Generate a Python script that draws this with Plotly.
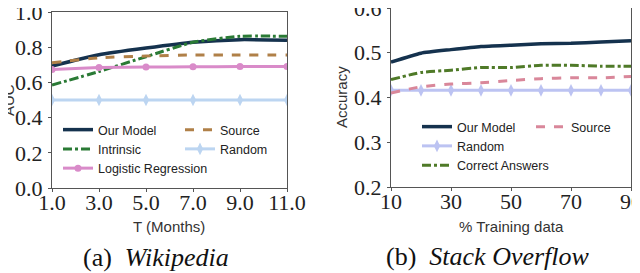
import plotly.graph_objects as go

# ---- Data: (a) Wikipedia ----
wiki_months = [1, 3, 5, 7, 9, 11]
wiki_our_model = [0.693, 0.757, 0.795, 0.828, 0.843, 0.840]
wiki_intrinsic = [0.585, 0.662, 0.746, 0.828, 0.862, 0.862]
wiki_source = [0.712, 0.740, 0.750, 0.756, 0.756, 0.756]
wiki_logistic = [0.674, 0.684, 0.687, 0.689, 0.690, 0.690]
wiki_random = [0.50, 0.50, 0.50, 0.50, 0.50, 0.50]
wiki_xticks = [1, 3, 5, 7, 9, 11]
wiki_xticklabels = ["1.0", "3.0", "5.0", "7.0", "9.0", "11.0"]
wiki_yticks = [0.0, 0.2, 0.4, 0.6, 0.8, 1.0]

# ---- Data: (b) Stack Overflow ----
so_pct = [10, 20, 30, 40, 50, 60, 70, 80, 90]
so_our_model = [0.479, 0.499, 0.507, 0.514, 0.517, 0.520, 0.521, 0.524, 0.527]
so_correct = [0.440, 0.456, 0.461, 0.467, 0.467, 0.472, 0.472, 0.470, 0.470]
so_source = [0.410, 0.424, 0.430, 0.433, 0.438, 0.442, 0.444, 0.444, 0.447]
so_random = [0.416] * 9
so_xticks = [10, 30, 50, 70, 90]
so_yticks = [0.2, 0.3, 0.4, 0.5, 0.6]

C_NAVY = "#15324e"
C_GREEN = "#2a7a35"
C_TAN = "#b08048"
C_PINK = "#d98bc9"
C_LBLUE = "#bcd5f1"
C_ROSE = "#d9879a"
C_LAV = "#bcc3f2"
C_OLIVE = "#4f7a28"

fig = go.Figure()
sh = "spline"
sm = 0.5

# Left plot traces
fig.add_trace(go.Scatter(x=wiki_months, y=wiki_our_model, name="Our Model", mode="lines",
                         line=dict(color=C_NAVY, width=3.5, shape=sh, smoothing=sm),
                         xaxis="x", yaxis="y", legend="legend"))
fig.add_trace(go.Scatter(x=wiki_months, y=wiki_intrinsic, name="Intrinsic", mode="lines",
                         line=dict(color=C_GREEN, width=3, dash="dashdot", shape=sh, smoothing=sm),
                         xaxis="x", yaxis="y", legend="legend"))
fig.add_trace(go.Scatter(x=wiki_months, y=wiki_logistic, name="Logistic Regression", mode="lines+markers",
                         line=dict(color=C_PINK, width=3, shape=sh, smoothing=sm),
                         marker=dict(symbol="circle", size=7, color=C_PINK),
                         xaxis="x", yaxis="y", legend="legend"))
fig.add_trace(go.Scatter(x=wiki_months, y=wiki_source, name="Source", mode="lines",
                         line=dict(color=C_TAN, width=3, dash="dash", shape=sh, smoothing=sm),
                         xaxis="x", yaxis="y", legend="legend2"))
fig.add_trace(go.Scatter(x=wiki_months, y=wiki_random, name="Random", mode="lines+markers",
                         line=dict(color=C_LBLUE, width=3, shape=sh, smoothing=sm),
                         marker=dict(symbol="diamond-tall", size=9, color=C_LBLUE),
                         xaxis="x", yaxis="y", legend="legend2"))

# Right plot traces
fig.add_trace(go.Scatter(x=so_pct, y=so_our_model, name="Our Model", mode="lines",
                         line=dict(color=C_NAVY, width=3.5, shape=sh, smoothing=sm),
                         xaxis="x2", yaxis="y2", legend="legend3"))
fig.add_trace(go.Scatter(x=so_pct, y=so_random, name="Random", mode="lines+markers",
                         line=dict(color=C_LAV, width=3, shape=sh, smoothing=sm),
                         marker=dict(symbol="diamond-tall", size=9, color=C_LAV),
                         xaxis="x2", yaxis="y2", legend="legend3"))
fig.add_trace(go.Scatter(x=so_pct, y=so_correct, name="Correct Answers", mode="lines",
                         line=dict(color=C_OLIVE, width=3, dash="dashdot", shape=sh, smoothing=sm),
                         xaxis="x2", yaxis="y2", legend="legend3"))
fig.add_trace(go.Scatter(x=so_pct, y=so_source, name="Source", mode="lines",
                         line=dict(color=C_ROSE, width=3, dash="dash", shape=sh, smoothing=sm),
                         xaxis="x2", yaxis="y2", legend="legend4"))

# The page body has an 8px margin, so the figure div starts at (8, 8)
OFF = 8
W, H = 640 - OFF, 273 - OFF
def px(x):
    return min(1.0, max(0.0, (x - OFF) / W))
def py(y):
    return min(1.0, max(0.0, 1 - (y - OFF) / H))

tickfont = dict(family="Liberation Serif", size=22, color="#222")
axcommon = dict(showline=True, linecolor="#555", linewidth=1, mirror=True, ticks="outside",
                ticklen=3, tickcolor="#555", showgrid=False, zeroline=False, tickfont=tickfont,
                ticklabeloverflow="allow", automargin=False)

legfont = dict(family="Liberation Sans", size=12.5, color="#222")
legcommon = dict(font=legfont, bgcolor="rgba(0,0,0,0)", xanchor="left", yanchor="top",
                 traceorder="normal", itemwidth=30, tracegroupgap=0)

fig.update_layout(
    width=W, height=H,
    margin=dict(l=0, r=0, t=0, b=0, autoexpand=False),
    paper_bgcolor="white", plot_bgcolor="white",
    showlegend=True,
    xaxis=dict(domain=[px(52), px(287)], range=[1, 11], tickvals=wiki_xticks,
               ticktext=wiki_xticklabels, anchor="y", ticklabelstandoff=-8, **axcommon),
    yaxis=dict(domain=[py(188), py(12)], range=[0, 1], tickvals=wiki_yticks,
               tickformat=".1f", anchor="x", ticklabelstandoff=1, **axcommon),
    xaxis2=dict(domain=[px(391), px(631)], range=[10, 90], tickvals=so_xticks,
                anchor="y2", ticklabelstandoff=-8, **axcommon),
    yaxis2=dict(domain=[py(187), py(8)], range=[0.2, 0.6], tickvals=so_yticks,
                tickformat=".1f", anchor="x2", ticklabelstandoff=1, **axcommon),
    legend=dict(x=px(58), y=py(115), **legcommon),
    legend2=dict(x=px(180), y=py(115), **legcommon),
    legend3=dict(x=px(417), y=py(112), **legcommon),
    legend4=dict(x=px(531), y=py(112), **legcommon),
)

axtitle = dict(family="Liberation Sans", size=15, color="#333")
capfont = dict(family="Liberation Serif", size=26, color="#111")
ann = dict(xref="paper", yref="paper", showarrow=False, xanchor="center", yanchor="middle")
fig.add_annotation(text="AUC", x=px(9), y=py(100), textangle=-90, font=axtitle, **ann)
fig.add_annotation(text="T (Months)", x=px(169), y=py(226), font=axtitle, **ann)
fig.add_annotation(text="Accuracy", x=px(342), y=py(97), textangle=-90, font=axtitle, **ann)
fig.add_annotation(text="% Training data", x=px(511), y=py(226), font=axtitle, **ann)
fig.add_annotation(text="(a)  <i>Wikipedia</i>", x=px(156), y=py(257), font=capfont, **ann)
fig.add_annotation(text="(b)  <i>Stack Overflow</i>", x=px(488), y=py(256), font=capfont, **ann)

fig.write_html("out.html")
